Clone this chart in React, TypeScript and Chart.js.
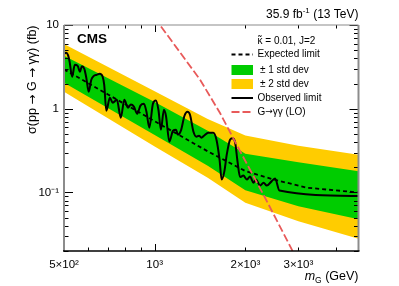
import React, { useEffect, useRef } from 'react';
import { Chart, registerables } from 'chart.js';
Chart.register(...registerables);

const FONT = '"Liberation Sans", Arial, Helvetica, sans-serif';
const AFONT = '"DejaVu Sans", sans-serif';

// Observed limit (mass in GeV, sigma in fb)
const obsMass = [500, 508, 516, 522, 532, 543, 555, 565, 573, 584, 593, 604, 616, 628, 642, 657, 672, 680, 691, 710, 726, 749, 772, 793, 815, 834, 853, 875, 897, 921, 939, 960, 987, 1009, 1029, 1049, 1073, 1090, 1119, 1150, 1177, 1195, 1222, 1256, 1285, 1310, 1345, 1376, 1403, 1430, 1458, 1507, 1565, 1604, 1642, 1669, 1703, 1735, 1779, 1811, 1848, 1884, 1921, 1970, 2022, 2074, 2127, 2171, 2238, 2299, 2356, 2448, 2511, 2595, 4750];
const obsValue = [4.52, 4.65, 4.34, 3.63, 2.41, 3.35, 3.25, 2.76, 3.21, 3.0, 2.34, 1.59, 2.22, 2.47, 2.54, 2.61, 2.41, 1.93, 0.947, 1.35, 1.18, 1.28, 0.781, 1.28, 1.03, 1.12, 1.06, 0.872, 1.09, 1.15, 0.921, 0.594, 1.15, 1.25, 0.973, 0.562, 0.973, 0.825, 0.404, 0.547, 0.562, 0.49, 0.547, 0.825, 0.921, 0.848, 0.532, 0.464, 0.476, 0.451, 0.476, 0.518, 0.518, 0.427, 0.247, 0.1425, 0.1774, 0.283, 0.427, 0.445, 0.404, 0.2335, 0.1526, 0.159, 0.1425, 0.1547, 0.131, 0.1425, 0.121, 0.131, 0.121, 0.1367, 0.1464, 0.1054, 0.0906];

// Expected limit
const expMass = [500, 700, 1000, 1500, 2000, 2500, 3200, 4750];
const expValue = [2.95, 1.48, 0.71, 0.31, 0.18, 0.142, 0.114, 0.1];

// Bands
const bandMass = [500, 1000, 1500, 2000, 3000, 4750];
const band2Up = [5.95, 1.62, 0.754, 0.48, 0.362, 0.283];
const band1Up = [4.28, 1.2, 0.547, 0.29, 0.23, 0.179];
const band1Lo = [2.04, 0.486, 0.209, 0.106, 0.0685, 0.048];
const band2Lo = [1.59, 0.354, 0.15, 0.0756, 0.0453, 0.028];

// Theory G -> gamma gamma (LO)
const thMass = [1000, 1041, 1415, 1648, 1896, 2296, 2854, 2900];
const thValue = [12.3, 10, 2.22, 0.889, 0.34, 0.0944, 0.0208, 0.018];

// Axis ticks
const xTickValues = [500, 600, 700, 800, 900, 1000, 2000, 3000, 4000];
const xLabelValues = [500, 1000, 2000, 3000];
const xLabelTexts = ['5×10²', '10³', '2×10³', '3×10³'];
const yTickValues = [0.02, 0.03, 0.04, 0.05, 0.06, 0.07, 0.08, 0.09, 0.1, 0.2, 0.3, 0.4, 0.5, 0.6, 0.7, 0.8, 0.9, 1, 2, 3, 4, 5, 6, 7, 8, 9, 10];
const yLabelValues = [0.1, 1, 10];
const yLabelTexts = ['10⁻¹', '1', '10'];

const GREEN = 'rgb(0,204,0)';
const YELLOW = 'rgb(255,204,0)';
const RED = 'rgb(232,90,90)';

const pts = (xs: number[], ys: number[]) => xs.map((x, i) => ({ x, y: ys[i] }));
const findLabel = (vals: number[], texts: string[], v: number) => {
  const i = vals.findIndex((a) => Math.abs(a - v) / a < 1e-6);
  return i >= 0 ? texts[i] : '';
};
const isPow10 = (v: number) => Math.abs(Math.log10(v) - Math.round(Math.log10(v))) < 1e-6;

type Run = [string, string, number?];
const drawRuns = (ctx: any, runs: Run[], x: number, y: number, align: 'left' | 'right') => {
  let total = 0;
  const ws = runs.map(([t, f]) => {
    ctx.font = f;
    const w = ctx.measureText(t).width;
    total += w;
    return w;
  });
  let cx = align === 'right' ? x - total : x;
  const prevAlign = ctx.textAlign;
  ctx.textAlign = 'left';
  runs.forEach(([t, f, dy], i) => {
    ctx.font = f;
    ctx.fillText(t, cx, y + (dy || 0));
    cx += ws[i];
  });
  ctx.textAlign = prevAlign;
};

const overlay = {
  id: 'overlay',
  afterDatasetsDraw(chart: any) {
    const { ctx, chartArea: a, scales } = chart;
    const xs = scales.x;
    const ys = scales.y;
    ctx.save();
    ctx.strokeStyle = '#000';
    ctx.lineWidth = 1;
    const line = (x1: number, y1: number, x2: number, y2: number) => {
      ctx.beginPath();
      ctx.moveTo(x1, y1);
      ctx.lineTo(x2, y2);
      ctx.stroke();
    };
    for (const t of xs.ticks) {
      const px = Math.round(xs.getPixelForValue(t.value)) + 0.5;
      const len = isPow10(t.value) ? 7 : 3.5;
      line(px, a.bottom, px, a.bottom - len);
      line(px, a.top, px, a.top + len);
    }
    for (const t of ys.ticks) {
      const py = Math.round(ys.getPixelForValue(t.value)) + 0.5;
      const len = isPow10(t.value) ? 9 : 4.5;
      line(a.left, py, a.left + len, py);
      line(a.right, py, a.right - len, py);
    }
    // frame
    ctx.strokeStyle = 'rgb(140,140,140)';
    ctx.lineWidth = 2;
    line(a.left, a.top, a.left, a.bottom);
    line(a.right, a.top, a.right, a.bottom);
    ctx.lineWidth = 1.2;
    line(a.left, a.top, a.right, a.top);
    ctx.strokeStyle = '#000';
    ctx.lineWidth = 1.6;
    line(a.left - 1, a.bottom, a.right + 1, a.bottom);
    ctx.restore();
  },
  afterDraw(chart: any) {
    const { ctx } = chart;
    ctx.save();
    ctx.fillStyle = '#000';
    ctx.textBaseline = 'alphabetic';
    const f12 = `12px ${FONT}`;
    const f8 = `8px ${FONT}`;
    // top right title
    drawRuns(ctx, [['35.9 fb', f12], ['-1', f8, -5], [' (13 TeV)', f12]], 358.5, 17.5, 'right');
    // CMS
    ctx.font = `bold 13.5px ${FONT}`;
    ctx.fillText('CMS', 77, 43);
    // y title
    ctx.save();
    ctx.translate(32.5, 25.5);
    ctx.rotate(-Math.PI / 2);
    ctx.textBaseline = 'middle';
    const fy = `12.5px ${FONT}`;
    const a12 = `12px ${AFONT}`;
    drawRuns(ctx, [['σ(pp ', fy], ['→', a12], [' G ', fy], ['→', a12], [' γγ) (fb)', fy]], 0, 0, 'right');
    ctx.restore();
    // x title
    const fi = `italic 12.5px ${FONT}`;
    const fs = `8.5px ${FONT}`;
    const fn = `12.5px ${FONT}`;
    drawRuns(ctx, [['m', fi], ['G', fs, 3], [' (GeV)', fn]], 358.5, 280, 'right');
    // legend
    const f10 = `10px ${FONT}`;
    ctx.font = f10;
    ctx.textBaseline = 'middle';
    const kw = ctx.measureText('κ').width;
    ctx.fillText('κ', 257.5, 41);
    ctx.textAlign = 'center';
    ctx.fillText('˜', 257.5 + kw / 2, 40);
    ctx.textAlign = 'left';
    ctx.fillText(' = 0.01, J=2', 257.5 + kw, 41);
    const sx0 = 231.5;
    const sx1 = 253;
    ctx.strokeStyle = '#000';
    ctx.lineWidth = 2;
    ctx.setLineDash([4, 3]);
    ctx.beginPath();
    ctx.moveTo(sx0, 54.5);
    ctx.lineTo(sx1, 54.5);
    ctx.stroke();
    ctx.fillText('Expected limit', 257.5, 54.5);
    ctx.setLineDash([]);
    ctx.fillStyle = GREEN;
    ctx.fillRect(sx0, 65, sx1 - sx0, 10);
    ctx.fillStyle = YELLOW;
    ctx.fillRect(sx0, 79, sx1 - sx0, 10);
    ctx.fillStyle = '#000';
    ctx.fillText('± 1 std dev', 260, 70);
    ctx.fillText('± 2 std dev', 260, 84);
    ctx.beginPath();
    ctx.moveTo(sx0, 98);
    ctx.lineTo(sx1, 98);
    ctx.stroke();
    ctx.fillText('Observed limit', 257.5, 98);
    ctx.strokeStyle = RED;
    ctx.lineWidth = 1.8;
    ctx.setLineDash([8, 3]);
    ctx.beginPath();
    ctx.moveTo(sx0, 112);
    ctx.lineTo(sx1, 112);
    ctx.stroke();
    ctx.setLineDash([]);
    drawRuns(ctx, [['G', f10], ['→', `9px ${AFONT}`], ['γγ (LO)', f10]], 257.5, 112, 'left');
    ctx.restore();
  },
};

export default function App() {
  const ref = useRef<HTMLCanvasElement>(null);
  useEffect(() => {
    const band = (data: any[], fill: any, color: string, order: number) => ({
      data,
      borderWidth: 0,
      borderColor: 'transparent',
      pointRadius: 0,
      fill,
      backgroundColor: color,
      order,
    });
    const chart = new Chart(ref.current as HTMLCanvasElement, {
      type: 'line',
      data: {
        datasets: [
          band(pts(bandMass, band2Up), 1, YELLOW, 10),
          band(pts(bandMass, band2Lo), false, 'transparent', 10),
          band(pts(bandMass, band1Up), 3, GREEN, 9),
          band(pts(bandMass, band1Lo), false, 'transparent', 9),
          {
            data: pts(expMass, expValue),
            borderColor: '#000',
            borderWidth: 1.8,
            borderDash: [4, 3],
            pointRadius: 0,
            fill: false,
            order: 3,
          },
          {
            data: pts(obsMass, obsValue),
            borderColor: '#000',
            borderWidth: 2,
            pointRadius: 0,
            fill: false,
            cubicInterpolationMode: 'monotone',
            order: 2,
          },
          {
            data: pts(thMass, thValue),
            borderColor: RED,
            borderWidth: 1.8,
            borderDash: [8, 3],
            pointRadius: 0,
            fill: false,
            order: 1,
          },
        ] as any,
      },
      options: {
        animation: false,
        responsive: true,
        maintainAspectRatio: false,
        layout: { padding: { left: 0, right: 40.5, top: 25, bottom: 0 } },
        plugins: { legend: { display: false }, tooltip: { enabled: false } },
        scales: {
          x: {
            type: 'logarithmic',
            min: 500,
            max: 4750,
            grid: { display: false, drawTicks: false },
            border: { display: false },
            afterBuildTicks: (s: any) => {
              s.ticks = xTickValues.map((v) => ({ value: v }));
            },
            afterFit: (s: any) => {
              s.height = 35;
            },
            ticks: {
              autoSkip: false,
              maxRotation: 0,
              padding: 7,
              color: '#000',
              font: { family: FONT, size: 11.5 },
              callback: (v: any) => findLabel(xLabelValues, xLabelTexts, Number(v)),
            },
          },
          y: {
            type: 'logarithmic',
            min: 0.02,
            max: 10,
            grid: { display: false, drawTicks: false },
            border: { display: false },
            afterBuildTicks: (s: any) => {
              s.ticks = yTickValues.map((v) => ({ value: v }));
            },
            afterFit: (s: any) => {
              s.width = 64;
            },
            ticks: {
              autoSkip: false,
              padding: 5,
              color: '#000',
              font: { family: FONT, size: 11.5 },
              callback: (v: any) => findLabel(yLabelValues, yLabelTexts, Number(v)),
            },
          },
        },
      } as any,
      plugins: [overlay],
    });
    return () => chart.destroy();
  }, []);
  return (
    <div style={{ position: 'absolute', left: 0, top: 0, width: 399, height: 286 }}>
      <canvas ref={ref} />
    </div>
  );
}
